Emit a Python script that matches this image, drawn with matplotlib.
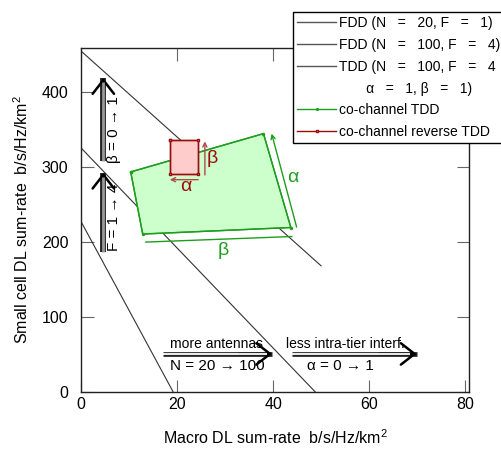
import matplotlib
matplotlib.use('Agg')
import matplotlib.pyplot as plt
from matplotlib.lines import Line2D

plt.rcParams['font.family'] = ['Liberation Sans', 'DejaVu Sans']
plt.rcParams['mathtext.fontset'] = 'custom'
plt.rcParams['mathtext.rm'] = 'Liberation Sans'

# boundary lines (macro rate, small cell rate)
fdd20_x = [0, 19.2]
fdd20_y = [227, 0]
fdd100_x = [0, 48.8]
fdd100_y = [325, 0]
tdd_x = [0, 50.0]
tdd_y = [454, 168]

# co-channel TDD region
cc_x = [10.35, 38.0, 43.7, 12.85]
cc_y = [293, 344, 219, 210.3]

# co-channel reverse TDD region
rev_x = [18.5, 24.3, 24.3, 18.5]
rev_y = [336, 336, 290.3, 290.3]

xticks = [0, 20, 40, 60, 80]
yticks = [0, 100, 200, 300, 400]

GREEN = '#1e9e1e'
DRED = '#9a0c0c'
LRED = '#b04a4a'

fig = plt.figure(figsize=(5.01, 4.49), dpi=100)
ax = fig.add_axes([81 / 501, 1 - 392 / 449, 388 / 501, 344 / 449])

ax.plot(fdd20_x, fdd20_y, color='#333333', lw=0.8)
ax.plot(fdd100_x, fdd100_y, color='#333333', lw=0.8)
ax.plot(tdd_x, tdd_y, color='#333333', lw=0.8)

ax.fill(cc_x, cc_y, facecolor='#ccffcc', edgecolor=GREEN, lw=1.0, zorder=3)
ax.plot(cc_x + cc_x[:1], cc_y + cc_y[:1], color=GREEN, lw=1.0, marker='.',
        ms=3, zorder=4)
ax.fill(rev_x, rev_y, facecolor='#ffcccc', edgecolor=DRED, lw=1.0, zorder=5)
ax.plot(rev_x + rev_x[:1], rev_y + rev_y[:1], color=DRED, lw=1.0, marker='s',
        ms=2, mfc='white', zorder=6)


def thin_arrow(x0, y0, x1, y1, color):
    ax.annotate('', xy=(x1, y1), xytext=(x0, y0), zorder=6,
                arrowprops=dict(arrowstyle='->,head_length=0.3,head_width=0.15',
                                color=color, lw=1.0, shrinkA=0, shrinkB=0))


def dbl_arrow(x0, y0, x1, y1, inner, outer='#222222', w=3.4, wi=1.3):
    # two parallel strokes plus an open head
    ax.plot([x0, x1], [y0, y1], color=outer, lw=w, solid_capstyle='butt', zorder=6)
    ax.annotate('', xy=(x1, y1), xytext=(x1 - (x1 - x0) * 0.3, y1 - (y1 - y0) * 0.3),
                zorder=7,
                arrowprops=dict(arrowstyle='->,head_length=0.45,head_width=0.35',
                                color='black', lw=1.8, shrinkA=0, shrinkB=0,
                                mutation_scale=22))
    xe = x1 - (x1 - x0) * 0.05
    ye = y1 - (y1 - y0) * 0.05
    ax.plot([x0, xe], [y0, ye], color=inner, lw=wi, solid_capstyle='butt', zorder=8)


# annotations on the regions
thin_arrow(44.9, 219.6, 39.7, 344, GREEN)
ax.plot([13.5, 43.9], [199.6, 207], color=GREEN, lw=1.0, zorder=6)
ax.text(44.2, 285, 'α', color=GREEN, fontsize=14, ha='center', va='center')
ax.text(29.6, 189, 'β', color=GREEN, fontsize=14, ha='center', va='center')
thin_arrow(24.4, 282.7, 18.5, 282.7, LRED)
thin_arrow(25.8, 289, 25.8, 333.7, LRED)
ax.text(21.9, 273, 'α', color=DRED, fontsize=14, ha='center', va='center')
ax.text(27.4, 310.7, 'β', color=DRED, fontsize=14, ha='center', va='center')

# big arrows
dbl_arrow(4.65, 307, 4.65, 418, '#999999', w=4.2, wi=2.0)
dbl_arrow(4.65, 186.7, 4.65, 292, '#999999', w=4.2, wi=2.0)
ax.text(6.9, 349, 'β = 0 → 1', rotation=90, fontsize=11, ha='center', va='center')
ax.text(6.9, 233, 'F = 1 → 4', rotation=90, fontsize=11, ha='center', va='center')

dbl_arrow(17.0, 50.7, 39.8, 50.7, 'white')
dbl_arrow(43.9, 50.7, 69.9, 50.7, 'white')
ax.text(28.3, 64, 'more antennas', fontsize=10, ha='center', va='center')
ax.text(28.3, 34.7, 'N = 20 → 100', fontsize=11, ha='center', va='center')
ax.text(55.0, 64, 'less intra-tier interf.', fontsize=10, ha='center', va='center')
ax.text(54.0, 34.7, 'α = 0 → 1', fontsize=11, ha='center', va='center')

ax.set_xlim(0, 80.8)
ax.set_ylim(0, 458)
ax.set_xticks(xticks)
ax.set_yticks(yticks)
ax.tick_params(direction='in', length=9, width=0.8, color='#666666',
               top=True, right=True, labelsize=11.5)
ax.tick_params(axis='y', pad=9)
for s in ax.spines.values():
    s.set_linewidth(1.0)
    s.set_color('#222222')

ax.set_xlabel('Macro DL sum-rate  b/s/Hz/km$^2$', fontsize=11.5, labelpad=12)
ax.set_ylabel('Small cell DL sum-rate  b/s/Hz/km$^2$', fontsize=11.5, labelpad=8)

handles = [
    Line2D([], [], color='#555555', lw=1.0),
    Line2D([], [], color='#555555', lw=1.0),
    Line2D([], [], color='#555555', lw=1.0),
    Line2D([], [], color='none'),
    Line2D([], [], color=GREEN, lw=1.0, marker='.', ms=2.5),
    Line2D([], [], color=DRED, lw=1.0, marker='s', ms=2, mfc='white'),
]
labels = [
    'FDD (N   =   20, F   =   1)',
    'FDD (N   =   100, F   =   4)',
    'TDD (N   =   100, F   =   4',
    '       α   =   1, β   =   1)',
    'co-channel TDD',
    'co-channel reverse TDD',
]
leg = fig.legend(handles, labels, loc='upper left', bbox_to_anchor=(293 / 501, 1 - 12 / 449),
                 borderaxespad=0, fancybox=False, framealpha=1, edgecolor='black',
                 fontsize=10, numpoints=1, handlelength=2.8, handletextpad=0.2,
                 labelspacing=0.56, borderpad=0.3)
leg.get_frame().set_linewidth(1.0)

fig.savefig('out.png', dpi=100)
